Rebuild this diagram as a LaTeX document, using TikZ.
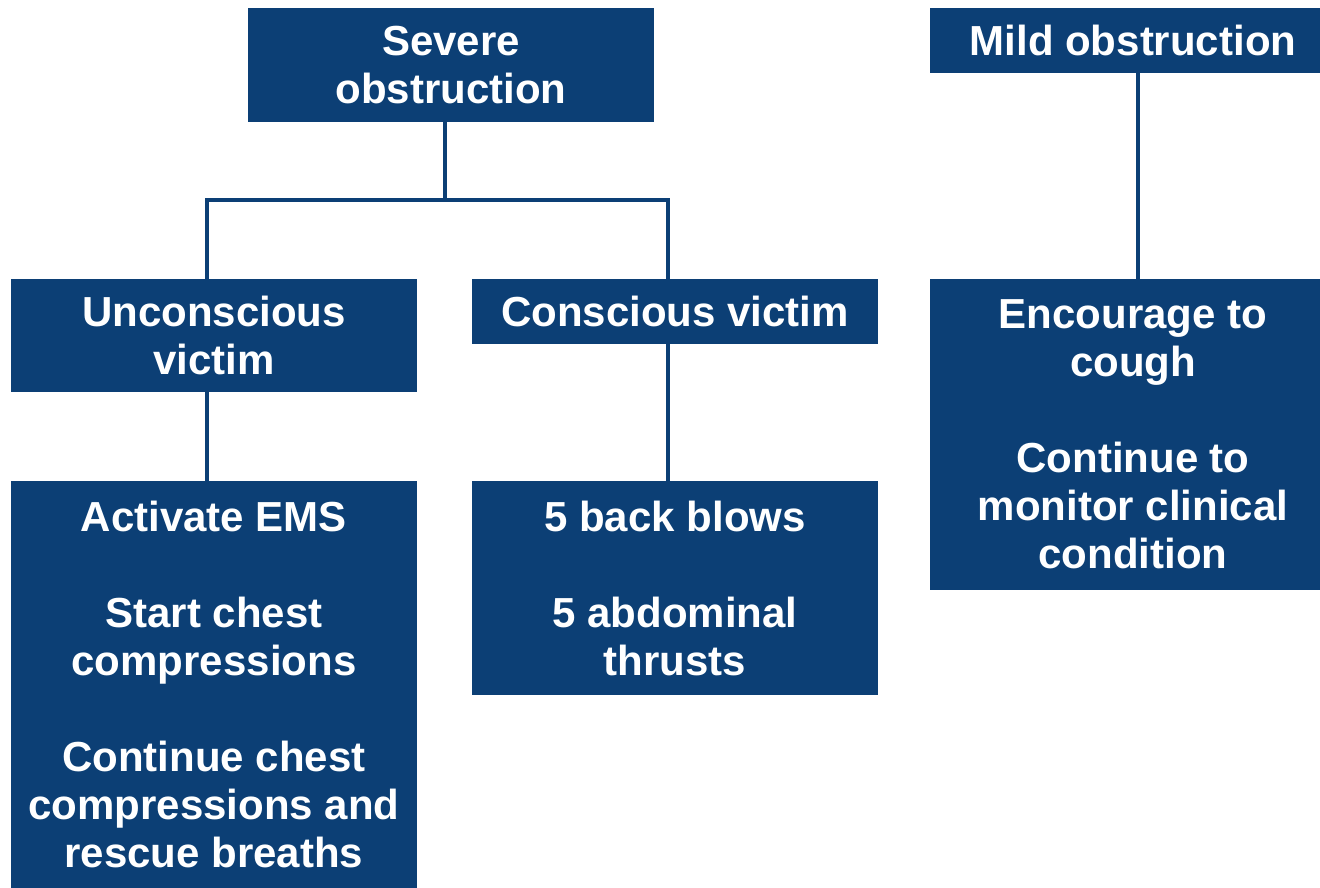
\documentclass[tikz,border=0pt]{standalone}
\usepackage{fontspec}
\setmainfont{Liberation Sans}
\definecolor{boxblue}{HTML}{0C3F75}
\begin{document}
\begin{tikzpicture}[x=0.75pt,y=-0.75pt,
  box/.style={fill=boxblue,draw=none,text=white,align=center,inner sep=0pt,
    font=\bfseries\fontsize{31.5}{36}\selectfont,minimum width=304.5pt},
  conn/.style={draw=boxblue,line width=3pt,line join=miter}]
\useasboundingbox (0,0) rectangle (1320,888);
% nodes
\node[box,minimum height=85.5pt] (sev) at (451,65) {Severe\\obstruction};
\node[box,minimum height=48.75pt] (mild) at (1133,40.5) {Mild obstruction};
\node[box,minimum height=84.75pt] (unc) at (214,335.5) {Unconscious\\victim};
\node[box,minimum height=48.75pt] (con) at (675,311.5) {Conscious victim};
\node[box,minimum height=233.25pt] (enc) at (1133,434.5) {Encourage to\\cough\\[36pt]Continue to\\monitor clinical\\condition};
\node[box,minimum height=305.25pt] (act) at (214,684.5) {Activate EMS\\[36pt]Start chest\\compressions\\[36pt]Continue chest\\compressions and\\rescue breaths};
\node[box,minimum height=160.5pt] (bb) at (675,588) {5 back blows\\[36pt]5 abdominal\\thrusts};
% junctions
\coordinate (j) at (445,200);
\coordinate (jl) at (207,200);
\coordinate (jr) at (668,200);
\coordinate (jm) at (1138,200);
% connectors
\begin{scope}[on background layer/.try]
\end{scope}
\draw[conn] (sev.south -| j) -- (j);
\draw[conn] (unc.north -| jl) -- (jl) -- (jr) -- (con.north -| jr);
\draw[conn] (unc.south -| jl) -- (act.north -| jl);
\draw[conn] (con.south -| jr) -- (bb.north -| jr);
\draw[conn] (mild.south -| jm) -- (enc.north -| jm);
\end{tikzpicture}
\end{document}
